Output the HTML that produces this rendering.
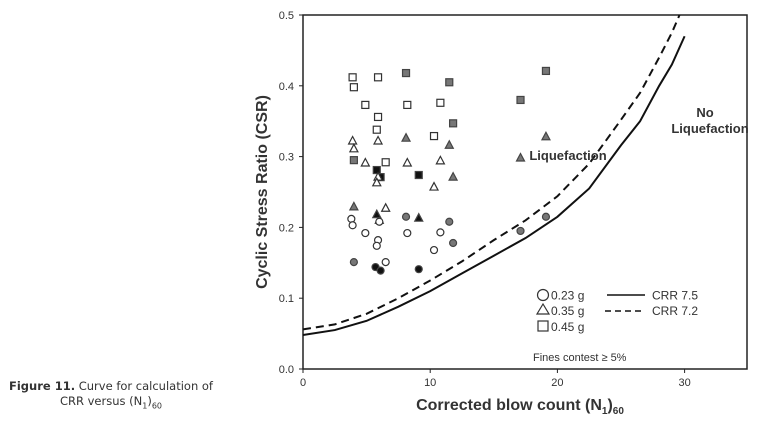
<!DOCTYPE html>
<html><head><meta charset="utf-8"><style>
body{margin:0;background:#fff;width:757px;height:421px;overflow:hidden;font-family:"Liberation Sans",sans-serif}
#cap{position:absolute;left:0;top:379px;width:222px;text-align:center;font-family:"DejaVu Sans",sans-serif;font-size:11.5px;line-height:15px;color:#333}
</style></head><body>
<div id="cap"><b>Figure 11.</b> Curve for calculation of CRR versus (N<sub style="font-size:8px">1</sub>)<sub style="font-size:8px">60</sub></div>
<svg id="c" width="757" height="421" style="position:absolute;left:0;top:0"></svg>
<script>
const xTicks=[0,10,20,30];
const yTicks=[0.0,0.1,0.2,0.3,0.4,0.5];
const crr75N=[0,2.5,5,7.5,10,12.5,15,17.5,20,22.5,25,26.5,28,29,30];
const crr75V=[0.048,0.055,0.068,0.088,0.11,0.135,0.16,0.185,0.215,0.255,0.316,0.35,0.40,0.43,0.47];
const crr72N=[0,2.5,5,7.5,10,12.5,15,17.5,20,22.5,25,26.5,28,29,29.6];
const crr72V=[0.056,0.063,0.078,0.1,0.125,0.152,0.182,0.21,0.244,0.29,0.352,0.39,0.44,0.475,0.5];
const openSqN=[3.9,4.0,4.9,5.9,5.9,5.8,6.5,8.2,10.8,10.3];
const openSqV=[0.412,0.398,0.373,0.412,0.356,0.338,0.292,0.373,0.376,0.329];
const graySqN=[8.1,11.5,11.8,4.0,17.1,19.1];
const graySqV=[0.418,0.405,0.347,0.295,0.38,0.421];
const blackSqN=[5.8,6.1,9.1];
const blackSqV=[0.281,0.271,0.274];
const openTriN=[3.9,4.0,4.9,5.9,5.9,5.8,8.2,10.8,10.3,6.5,6.0];
const openTriV=[0.322,0.311,0.291,0.322,0.271,0.263,0.291,0.294,0.257,0.227,0.21];
const grayTriN=[8.1,11.5,11.8,4.0,17.1,19.1];
const grayTriV=[0.326,0.316,0.271,0.229,0.298,0.328];
const blackTriN=[5.8,9.1];
const blackTriV=[0.218,0.213];
const openCirN=[3.8,3.9,4.9,5.9,5.8,8.2,10.8,10.3,6.5,6.0];
const openCirV=[0.212,0.203,0.192,0.182,0.174,0.192,0.193,0.168,0.151,0.208];
const grayCirN=[8.1,11.5,11.8,4.0,17.1,19.1];
const grayCirV=[0.215,0.208,0.178,0.151,0.195,0.215];
const blackCirN=[5.7,6.1,9.1];
const blackCirV=[0.144,0.139,0.141];

const X0=303,X1=747,Y0=369,Y1=15;
const sx=v=>X0+v*12.72, sy=v=>Y0-(v/0.5)*(Y0-Y1);
const svg=document.getElementById('c');const NS='http://www.w3.org/2000/svg';
function mk(t,a,name,txt){const e=document.createElementNS(NS,t);for(const k in a)e.setAttribute(k,a[k]);


if(txt!==undefined)e.textContent=txt;svg.appendChild(e);return e;}
mk('rect',{x:X0,y:Y1,width:X1-X0,height:Y0-Y1,fill:'none',stroke:'#222','stroke-width':1.5},'plot-frame');
xTicks.forEach(t=>{mk('line',{x1:sx(t),x2:sx(t),y1:Y0,y2:Y0+4,stroke:'#222'},'x-tick');
mk('text',{x:sx(t),y:Y0+17,'text-anchor':'middle','font-size':11,fill:'#333'},'x-tick-label',t);});
yTicks.forEach(t=>{mk('line',{x1:X0-4,x2:X0,y1:sy(t),y2:sy(t),stroke:'#222'},'y-tick');
mk('text',{x:X0-9,y:sy(t)+4,'text-anchor':'end','font-size':11,fill:'#333'},'y-tick-label',t.toFixed(1));});
const xt=mk('text',{x:520,y:410,'text-anchor':'middle','font-size':16,'font-weight':'bold',fill:'#333'},'x-axis-title');
xt.innerHTML='Corrected blow count (N<tspan font-size="10" dy="4">1</tspan><tspan dy="-4">)</tspan><tspan font-size="10" dy="4">60</tspan>';
mk('text',{x:267,y:192,'text-anchor':'middle','font-size':16,'font-weight':'bold',fill:'#333',transform:'rotate(-90 267 192)'},'y-axis-title','Cyclic Stress Ratio (CSR)');
function line(N,V,dash,name){mk('polyline',{points:N.map((n,i)=>sx(n)+','+sy(V[i])).join(' '),fill:'none',stroke:'#111','stroke-width':2,'stroke-dasharray':dash||'none'},name);}
line(crr75N,crr75V,null,'crr-7.5-curve');
line(crr72N,crr72V,'8,5','crr-7.2-curve');
const col={o:'#fff',g:'#777',b:'#111'};
function sq(N,V,f,name){N.forEach((n,i)=>mk('rect',{x:sx(n)-3.5,y:sy(V[i])-3.5,width:7,height:7,fill:col[f],stroke:f=='o'?'#333':'#444','stroke-width':1.2},name));}
function tri(N,V,f,name){N.forEach((n,i)=>{const x=sx(n),y=sy(V[i]);mk('polygon',{points:`${x},${y-4.5} ${x-4},${y+3} ${x+4},${y+3}`,fill:col[f],stroke:f=='o'?'#333':'#444','stroke-width':1.2},name);});}
function cir(N,V,f,name){N.forEach((n,i)=>mk('circle',{cx:sx(n),cy:sy(V[i]),r:3.5,fill:col[f],stroke:f=='o'?'#333':'#444','stroke-width':1.2},name));}
sq(openSqN,openSqV,'o','point-open-square');sq(graySqN,graySqV,'g','point-gray-square');sq(blackSqN,blackSqV,'b','point-black-square');
tri(openTriN,openTriV,'o','point-open-triangle');tri(grayTriN,grayTriV,'g','point-gray-triangle');tri(blackTriN,blackTriV,'b','point-black-triangle');
cir(openCirN,openCirV,'o','point-open-circle');cir(grayCirN,grayCirV,'g','point-gray-circle');cir(blackCirN,blackCirV,'b','point-black-circle');
mk('text',{x:568,y:160,'text-anchor':'middle','font-size':13,'font-weight':'bold',fill:'#333'},'liquefaction-label','Liquefaction');
mk('text',{x:705,y:117,'text-anchor':'middle','font-size':13,'font-weight':'bold',fill:'#333'},'no-liquefaction-label','No');
mk('text',{x:710,y:133,'text-anchor':'middle','font-size':13,'font-weight':'bold',fill:'#333'},'no-liquefaction-label','Liquefaction');
mk('circle',{cx:543,cy:295,r:5.5,fill:'none',stroke:'#333','stroke-width':1.2},'legend-circle');
mk('text',{x:551,y:299.5,'font-size':12,fill:'#333'},'legend-0.23g','0.23 g');
mk('polygon',{points:'543,304 537,314 549,314',fill:'none',stroke:'#333','stroke-width':1.2},'legend-triangle');
mk('text',{x:551,y:315,'font-size':12,fill:'#333'},'legend-0.35g','0.35 g');
mk('rect',{x:538,y:321,width:10,height:10,fill:'none',stroke:'#333','stroke-width':1.2},'legend-square');
mk('text',{x:551,y:331,'font-size':12,fill:'#333'},'legend-0.45g','0.45 g');
mk('line',{x1:607,x2:645,y1:295,y2:295,stroke:'#111','stroke-width':1.5},'legend-solid-line');
mk('text',{x:652,y:299.5,'font-size':12,fill:'#333'},'legend-crr-7.5','CRR 7.5');
mk('line',{x1:605,x2:645,y1:311,y2:311,stroke:'#111','stroke-width':1.5,'stroke-dasharray':'6,4'},'legend-dashed-line');
mk('text',{x:652,y:315,'font-size':12,fill:'#333'},'legend-crr-7.2','CRR 7.2');
mk('text',{x:533,y:361,'font-size':11,fill:'#333'},'fines-note','Fines contest ≥ 5%');
</script>
</body></html>
